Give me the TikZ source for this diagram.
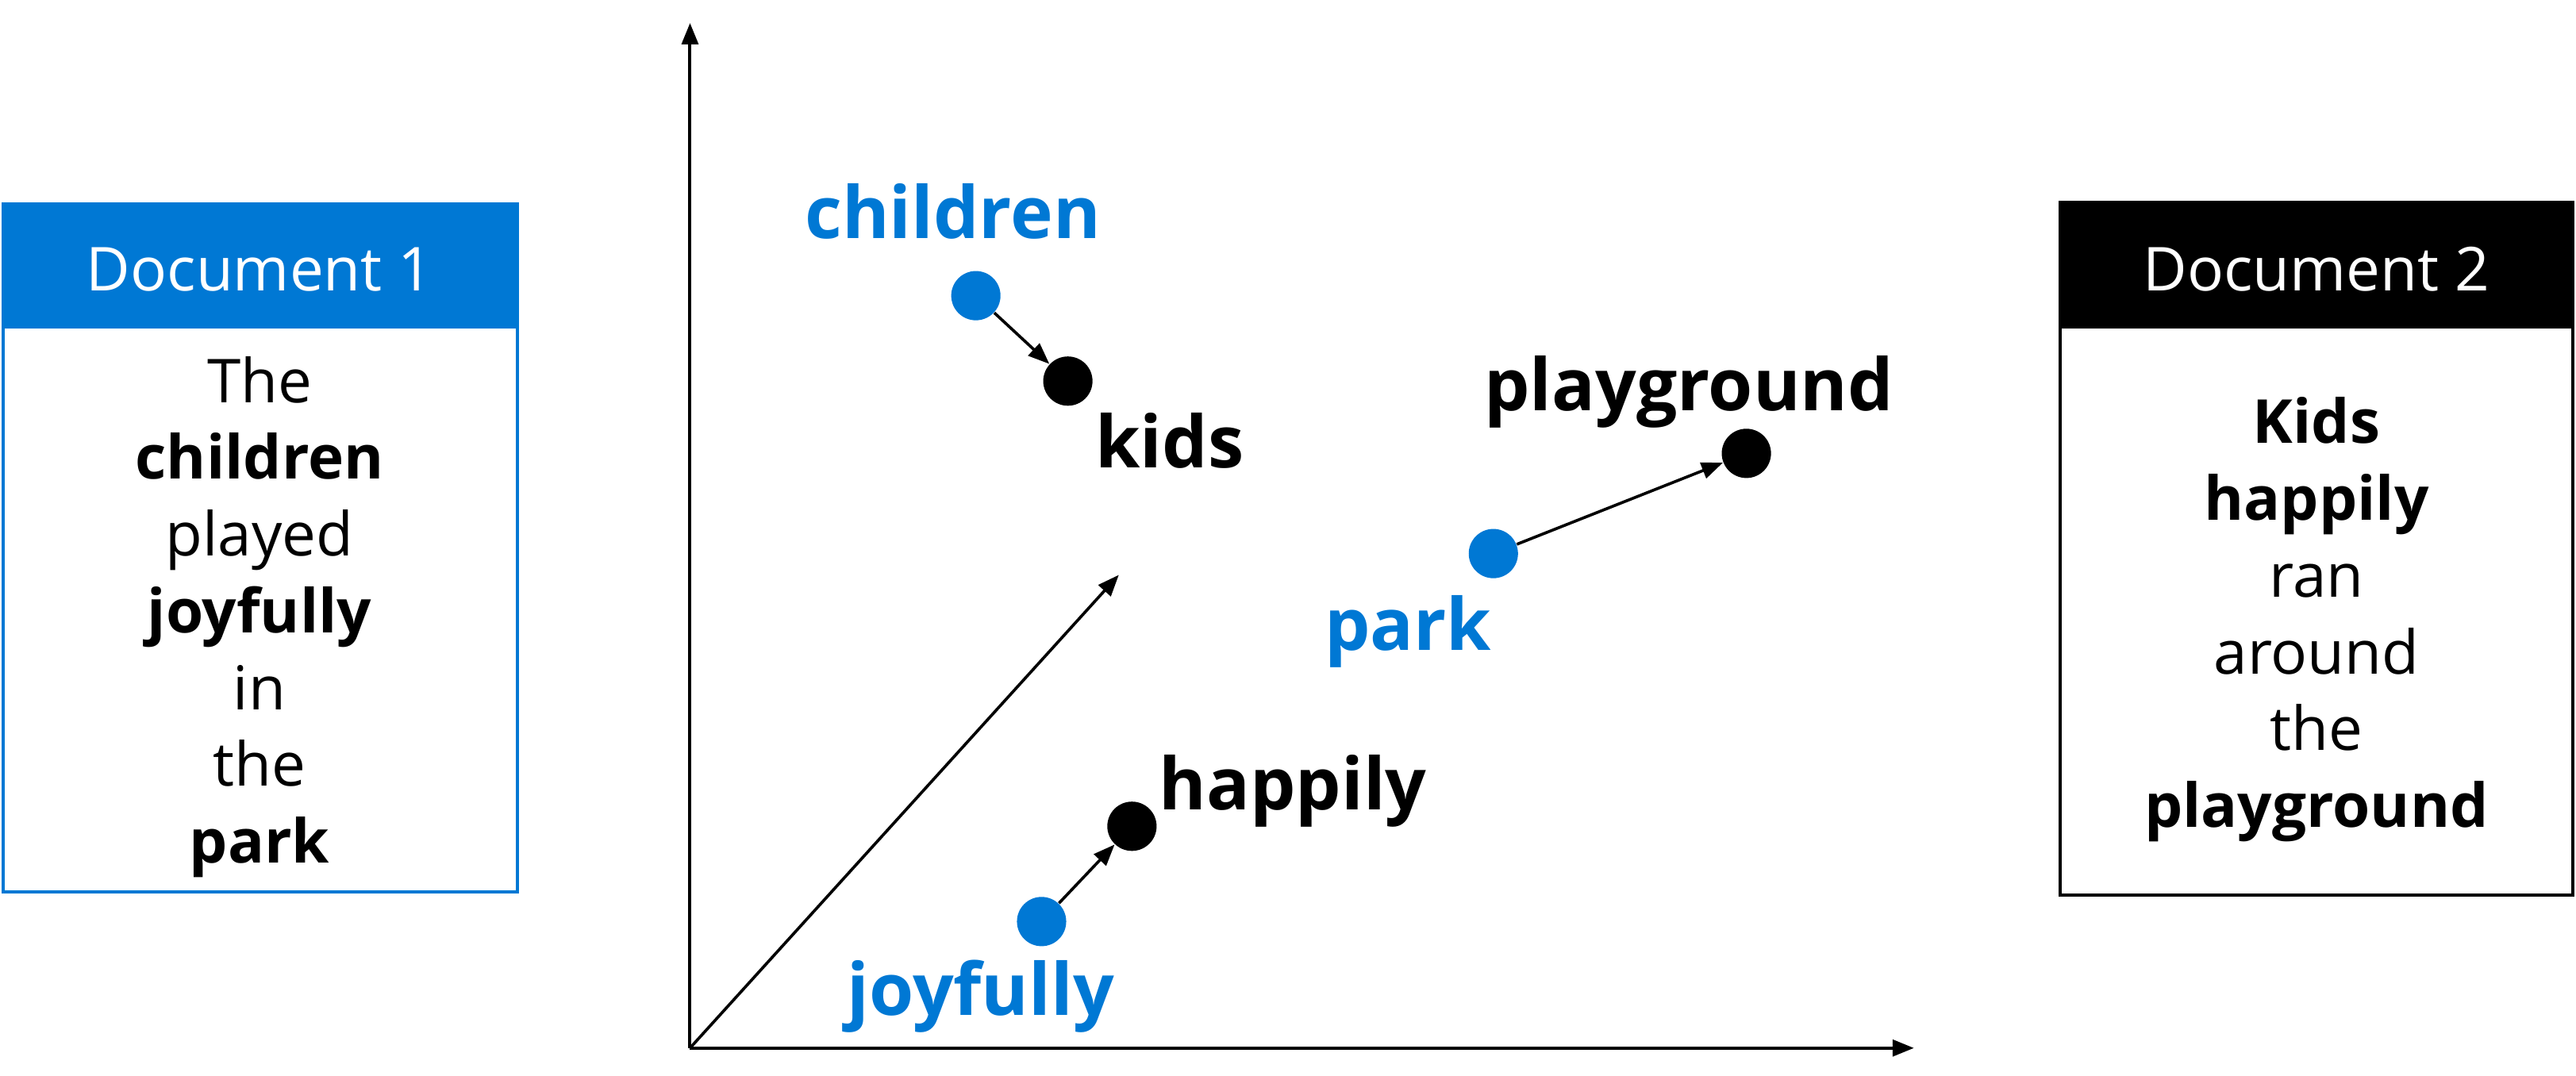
\documentclass[tikz,border=0pt]{standalone}
\usepackage{fontspec}
\setmainfont{Open Sans}
\usetikzlibrary{arrows.meta}
\definecolor{msblue}{RGB}{0,120,212}
\newcommand{\arw}{-{Triangle[length=2.6mm,width=2mm]}}

\begin{document}
\begin{tikzpicture}[x=.02cm,y=.02cm,
  dot/.style={circle,inner sep=0pt,minimum size=.6cm},
  word/.style={font=\fontsize{25}{30}\selectfont\bfseries,anchor=base},
  doctext/.style={font=\fontsize{21}{26.6}\selectfont,align=center,text width=5.5cm,anchor=base},
  dochead/.style={font=\fontsize{21}{25}\selectfont,text=white,anchor=base}]
\useasboundingbox (0,0) rectangle (1568,655);
%document 1
\fill[msblue] (2,455) rectangle (315,531);
\draw[msblue,line width=1pt] (2,112) rectangle (315,531);
\node[dochead] (head1) at (158,478) {Document 1};
\node[doctext] (text1) at (158,410) {The\\ \textbf{children}\\ played\\ \textbf{joyfully}\\ in\\ the\\ \textbf{park}};
%document 2
\fill[black] (1254,455) rectangle (1566,532);
\draw[line width=1pt] (1254,110) rectangle (1566,532);
\node[dochead] (head2) at (1410,478) {Document 2};
\node[doctext] (text2) at (1410,385) {\textbf{Kids}\\ \textbf{happily}\\ ran\\ around\\ the\\ \textbf{playground}};
%axes
\coordinate (O) at (420,17);
\coordinate (ytop) at (420,641);
\coordinate (xend) at (1165,17);
\coordinate (diag) at (681,305);
\draw[\arw,line width=1.1pt] (O) -- (ytop);
\draw[\arw,line width=1.1pt] (O) -- (xend);
\draw[\arw,line width=1pt] (O) -- (diag);
%word vectors
\node[dot,fill=msblue] (children) at (594,475) {};
\node[dot,fill=black] (kids) at (650,423) {};
\node[dot,fill=msblue] (park) at (909,318) {};
\node[dot,fill=black] (playground) at (1063,379) {};
\node[dot,fill=msblue] (joyfully) at (634,94) {};
\node[dot,fill=black] (happily) at (689,152) {};
\draw[\arw,line width=1pt] (children) -- (kids);
\draw[\arw,line width=1pt] (park) -- (playground);
\draw[\arw,line width=1pt] (joyfully) -- (happily);
\node[word,text=msblue] (lchildren) at (580,510) {children};
\node[word] (lkids) at (712,370) {kids};
\node[word] (lplayground) at (1028,405) {playground};
\node[word,text=msblue] (lpark) at (857,259) {park};
\node[word] (lhappily) at (787,162) {happily};
\node[word,text=msblue] (ljoyfully) at (597,37) {joyfully};
\end{tikzpicture}
\end{document}
